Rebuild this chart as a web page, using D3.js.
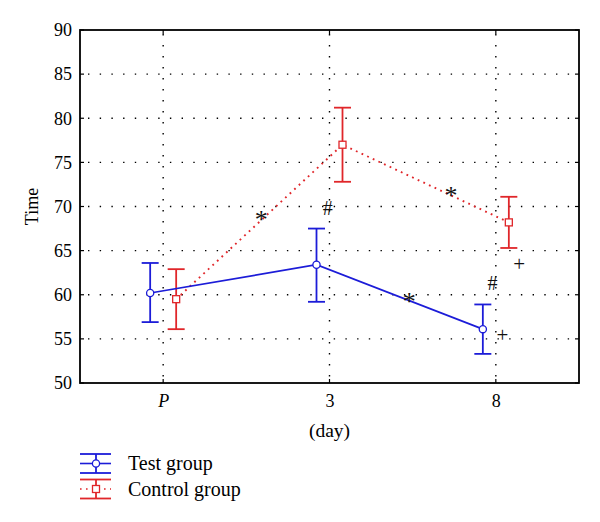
<!DOCTYPE html>
<html><head><meta charset="utf-8">
<script src="https://cdn.jsdelivr.net/npm/d3@7"></script>
<style>body{margin:0;background:#fff}text{font-family:"Liberation Serif","DejaVu Serif",serif}</style>
</head><body><svg id="c" width="600" height="522"></svg>
<script>
const categories = ["P", "3", "8"];
const yTicks = [50, 55, 60, 65, 70, 75, 80, 85, 90];
const testMean = [60.2, 63.4, 56.1];
const testUpper = [63.6, 67.5, 58.9];
const testLower = [56.9, 59.2, 53.3];
const ctrlMean = [59.5, 77.0, 68.2];
const ctrlUpper = [62.9, 81.2, 71.1];
const ctrlLower = [56.1, 72.8, 65.3];
const annoText = ["*", "#", "*", "*", "#", "+", "+"];
const annoPos = [0.59, 0.99, 1.73, 1.48, 1.98, 2.14, 2.04];
const annoVal = [69.2, 69.8, 71.9, 59.9, 61.3, 63.5, 55.4];

const blue = "#1c1cd8", red = "#e0262a";
const svg = d3.select("#c");
const L = 80, R = 579, T = 30, B = 383;
const x = d3.scaleLinear().domain([-0.5, 2.5]).range([L, R]);
const y = d3.scaleLinear().domain([50, 90]).range([B, T]);
const off = 13;

// grid
const g = svg.append("g");
yTicks.filter(v => v > 50 && v < 90).forEach(v => {
  g.append("line").attr("x1", L).attr("x2", R).attr("y1", y(v)).attr("y2", y(v))
   .attr("stroke", "#000").attr("stroke-width", 1.4).attr("stroke-dasharray", "1.4,10.3").attr("stroke-dashoffset", -8);
});
categories.forEach((c, i) => {
  g.append("line").attr("x1", x(i)).attr("x2", x(i)).attr("y1", T).attr("y2", B)
   .attr("stroke", "#000").attr("stroke-width", 1.4).attr("stroke-dasharray", "1.4,9.6").attr("stroke-dashoffset", -4);
});

// axes
const yAxis = d3.axisLeft(y).tickValues(yTicks).tickSize(0).tickPadding(8);
const ya = svg.append("g").attr("transform", `translate(${L},0)`).call(yAxis);
ya.select(".domain").remove();
ya.selectAll("text").attr("font-size", 18).attr("fill", "#000").style("font-family", "Liberation Serif");
const xAxis = d3.axisBottom(x).tickValues([0, 1, 2]).tickFormat((d, i) => categories[i]).tickSize(0).tickPadding(11);
const xa = svg.append("g").attr("transform", `translate(0,${B})`).call(xAxis);
xa.select(".domain").remove();
xa.selectAll("text").attr("font-size", 18).attr("fill", "#000").style("font-family", "Liberation Serif")
  .attr("font-style", (d, i) => i === 0 ? "italic" : "normal");
yTicks.forEach(v => {
  svg.append("line").attr("x1", R - 4).attr("x2", R).attr("y1", y(v)).attr("y2", y(v)).attr("stroke", "#000").attr("stroke-width", 1.2);
  svg.append("line").attr("x1", L).attr("x2", L + 4).attr("y1", y(v)).attr("y2", y(v)).attr("stroke", "#000").attr("stroke-width", 1.2);
});
[0, 1, 2].forEach(i => {
  svg.append("line").attr("x1", x(i)).attr("x2", x(i)).attr("y1", T).attr("y2", T + 4).attr("stroke", "#000").attr("stroke-width", 1.2);
  svg.append("line").attr("x1", x(i)).attr("x2", x(i)).attr("y1", B - 4).attr("y2", B).attr("stroke", "#000").attr("stroke-width", 1.2);
});
svg.append("rect").attr("x", L).attr("y", T).attr("width", R - L).attr("height", B - T)
  .attr("fill", "none").attr("stroke", "#000").attr("stroke-width", 1.8);

svg.append("text").attr("transform", `translate(38,${(T + B) / 2}) rotate(-90)`).attr("text-anchor", "middle")
  .attr("font-size", 18).attr("fill", "#000").text("Time");
svg.append("text").attr("x", x(1)).attr("y", 437).attr("text-anchor", "middle")
  .attr("font-size", 19.5).attr("fill", "#000").text("(day)");

// series
function series(mean, up, lo, dx, color, dash, marker) {
  const line = d3.line().x((d, i) => x(i) + dx).y(d => y(d));
  svg.append("path").attr("d", line(mean)).attr("fill", "none").attr("stroke", color)
    .attr("stroke-width", dash ? 1.9 : 1.7).attr("stroke-dasharray", dash ? "1.8,4.4" : null);
  mean.forEach((m, i) => {
    const cx = x(i) + dx;
    svg.append("line").attr("x1", cx).attr("x2", cx).attr("y1", y(up[i])).attr("y2", y(lo[i])).attr("stroke", color).attr("stroke-width", 1.8);
    [up[i], lo[i]].forEach(v => svg.append("line").attr("x1", cx - 8.5).attr("x2", cx + 8.5).attr("y1", y(v)).attr("y2", y(v)).attr("stroke", color).attr("stroke-width", 1.8));
    marker(cx, y(m));
  });
}
const circ = (cx, cy) => svg.append("circle").attr("cx", cx).attr("cy", cy).attr("r", 3.6).attr("fill", "#fff").attr("stroke", blue).attr("stroke-width", 1.3);
const sq = (cx, cy) => svg.append("rect").attr("x", cx - 3.5).attr("y", cy - 3.5).attr("width", 7).attr("height", 7).attr("fill", "#fff").attr("stroke", red).attr("stroke-width", 1.3);
series(ctrlMean, ctrlUpper, ctrlLower, off, red, true, sq);
series(testMean, testUpper, testLower, -off, blue, false, circ);

// annotations
const aSize = {"*": 26, "#": 20, "+": 21};
const aDy = {"*": 6, "#": 0, "+": 0};
annoText.forEach((t, i) => {
  svg.append("text").attr("x", x(annoPos[i])).attr("y", y(annoVal[i])).attr("text-anchor", "middle")
    .attr("dominant-baseline", "central").attr("font-size", aSize[t]).attr("fill", "#111")
    .attr("font-weight", t === "*" ? 300 : 400)
    .attr("dy", aDy[t]).text(t);
});

// legend
function legendItem(y0, color, dash, label, marker) {
  const lg = svg.append("g");
  [-9.5, 9.5].forEach(d => lg.append("line").attr("x1", 80).attr("x2", 111).attr("y1", y0 + d).attr("y2", y0 + d).attr("stroke", color).attr("stroke-width", 1.8));
  lg.append("line").attr("x1", 96).attr("x2", 96).attr("y1", y0 - 9.5).attr("y2", y0 + 9.5).attr("stroke", color).attr("stroke-width", 1.8);
  lg.append("line").attr("x1", 80).attr("x2", 111).attr("y1", y0).attr("y2", y0).attr("stroke", color).attr("stroke-width", 1.6).attr("stroke-dasharray", dash ? "1.6,4.4" : null);
  marker(96, y0);
  lg.append("text").attr("x", 128).attr("y", y0 + 6.5).attr("font-size", 20).attr("fill", "#000").text(label);
}
legendItem(463.5, blue, false, "Test group", circ);
legendItem(489, red, true, "Control group", sq);
</script></body></html>
